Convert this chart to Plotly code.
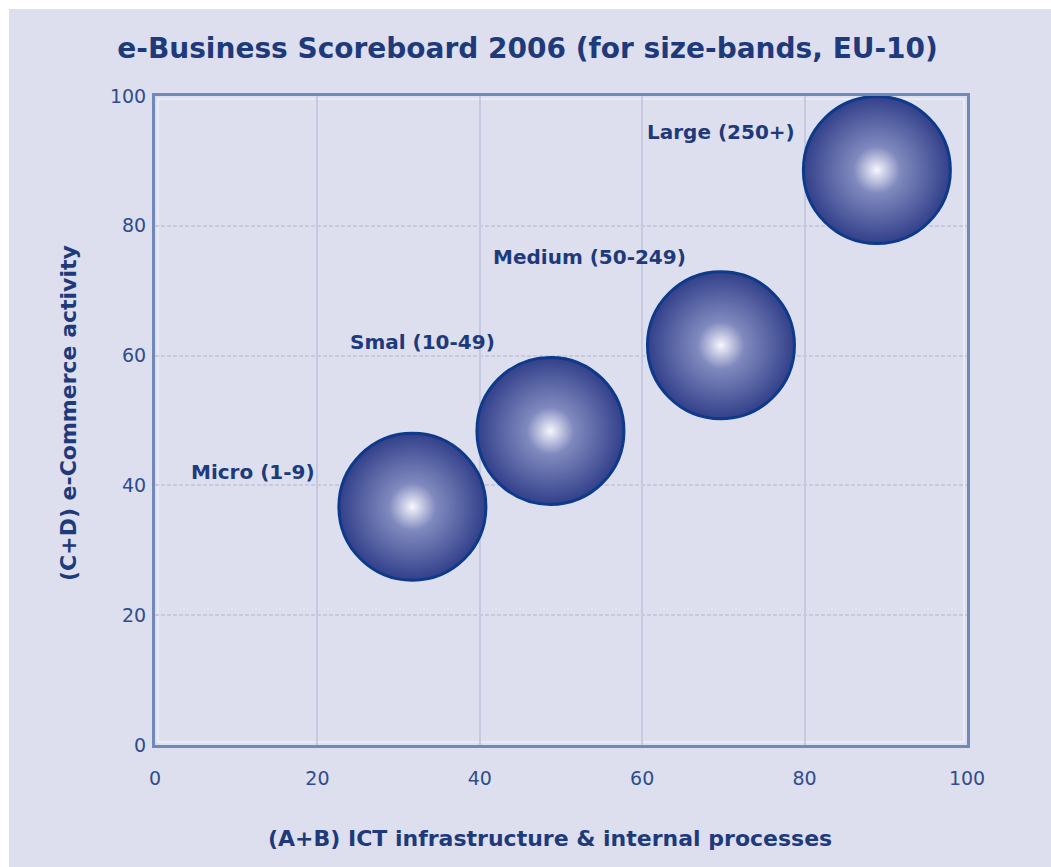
import plotly.graph_objects as go

# ---- data ----
categories = ["Micro (1-9)", "Smal (10-49)", "Medium (50-249)", "Large (250+)"]
ict_infra = [31.7, 48.7, 69.7, 88.9]        # x: (A+B)
ecommerce = [36.7, 48.4, 61.6, 88.6]        # y: (C+D)
tick_vals = [0, 20, 40, 60, 80, 100]
tick_text = ["0", "20", "40", "60", "80", "100"]

# ---- styles ----
W, H = 1051, 867
ML, MR, MT, MB = 155, 84, 96, 122
PW, PH = W - ML - MR, H - MT - MB
BG = "#dddfef"
NAVY = "#1e3a7b"
TICKC = "#2f4d8c"
FONT = "DejaVu Sans"
BUBBLE_D = 147
INNER_FRAC = 0.32
# label offsets (pixels) relative to each bubble centre
label_dx = [-159, -128, -131, -156]
label_dy = [35, 89, 88, 38]

def mix(c0, c1, t):
    return "rgb(%d,%d,%d)" % tuple(round(a + (b - a) * t) for a, b in zip(c0, c1))

OUT_CENTER = (165, 172, 215)
OUT_EDGE = (50, 64, 138)

fig = go.Figure()
# outer sphere shading
fig.add_trace(go.Scatter(
    x=ict_infra, y=ecommerce, mode="markers",
    marker=dict(size=BUBBLE_D, color=mix(OUT_CENTER, OUT_EDGE, 1.0),
                gradient=dict(type="radial", color=mix(OUT_CENTER, OUT_EDGE, 0.0)),
                line=dict(color="#0d3a8a", width=3), opacity=1),
    hoverinfo="text", text=categories, showlegend=False,
))
# inner highlight
fig.add_trace(go.Scatter(
    x=ict_infra, y=ecommerce, mode="markers",
    marker=dict(size=BUBBLE_D * INNER_FRAC, color=mix(OUT_CENTER, OUT_EDGE, INNER_FRAC),
                gradient=dict(type="radial", color="rgb(247,247,253)"),
                line=dict(width=0), opacity=1),
    hoverinfo="skip", showlegend=False,
))

for i, name in enumerate(categories):
    fig.add_annotation(x=ict_infra[i], y=ecommerce[i], text=name, showarrow=False,
                       xanchor="center", yanchor="middle",
                       xshift=label_dx[i], yshift=label_dy[i],
                       font=dict(family=FONT, size=20, color=NAVY, weight="bold"))

def px_to_paper_x(p):
    return (p - ML) / PW

def px_to_paper_y(p):
    return (H - MB - p) / PH

# axis titles
fig.add_annotation(xref="paper", yref="paper", x=px_to_paper_x(550), y=px_to_paper_y(838),
                   xanchor="center", yanchor="middle",
                   text="(A+B) ICT infrastructure &amp; internal processes", showarrow=False,
                   font=dict(family=FONT, size=22, color=NAVY, weight="bold"))
fig.add_annotation(xref="paper", yref="paper", x=px_to_paper_x(69), y=px_to_paper_y(413),
                   xanchor="center", yanchor="middle",
                   text="(C+D) e-Commerce activity", showarrow=False, textangle=-90,
                   font=dict(family=FONT, size=22, color=NAVY, weight="bold"))

# white strips at top & left edge of the picture
fig.add_shape(type="rect", xref="paper", yref="paper", layer="below",
              x0=px_to_paper_x(-5), x1=px_to_paper_x(W + 5),
              y0=px_to_paper_y(9), y1=px_to_paper_y(-5),
              fillcolor="white", line=dict(width=0))
fig.add_shape(type="rect", xref="paper", yref="paper", layer="below",
              x0=px_to_paper_x(-5), x1=px_to_paper_x(9),
              y0=px_to_paper_y(H + 5), y1=px_to_paper_y(-5),
              fillcolor="white", line=dict(width=0))
# faint inner highlight along the frame
fig.add_shape(type="rect", xref="paper", yref="paper", layer="below",
              x0=px_to_paper_x(ML + 3), x1=px_to_paper_x(W - MR - 3),
              y0=px_to_paper_y(H - MB - 3), y1=px_to_paper_y(MT + 3),
              fillcolor="rgba(0,0,0,0)", line=dict(color="rgba(255,255,255,0.7)", width=1))

axis_common = dict(range=[0, 100], tickvals=tick_vals, ticktext=tick_text,
                   showline=True, linecolor="#7089b9", linewidth=3, mirror=True,
                   gridcolor="#c6c9df", gridwidth=2, zeroline=False, ticks="",
                   tickfont=dict(family=FONT, size=19, color=TICKC), fixedrange=True)

fig.update_layout(
    width=W, height=H,
    margin=dict(l=ML, r=MR, t=MT, b=MB),
    paper_bgcolor=BG, plot_bgcolor=BG,
    title=dict(text="e-Business Scoreboard 2006 (for size-bands, EU-10)",
               x=0.502, xanchor="center", xref="container",
               y=1 - 48 / H, yanchor="middle", yref="container",
               font=dict(family=FONT, size=28, color=NAVY, weight="bold")),
    xaxis=dict(**axis_common, ticklabelstandoff=14),
    yaxis=dict(**axis_common, ticklabelstandoff=2, griddash="4px,2px"),
    showlegend=False,
)

fig.write_html("out.html")
